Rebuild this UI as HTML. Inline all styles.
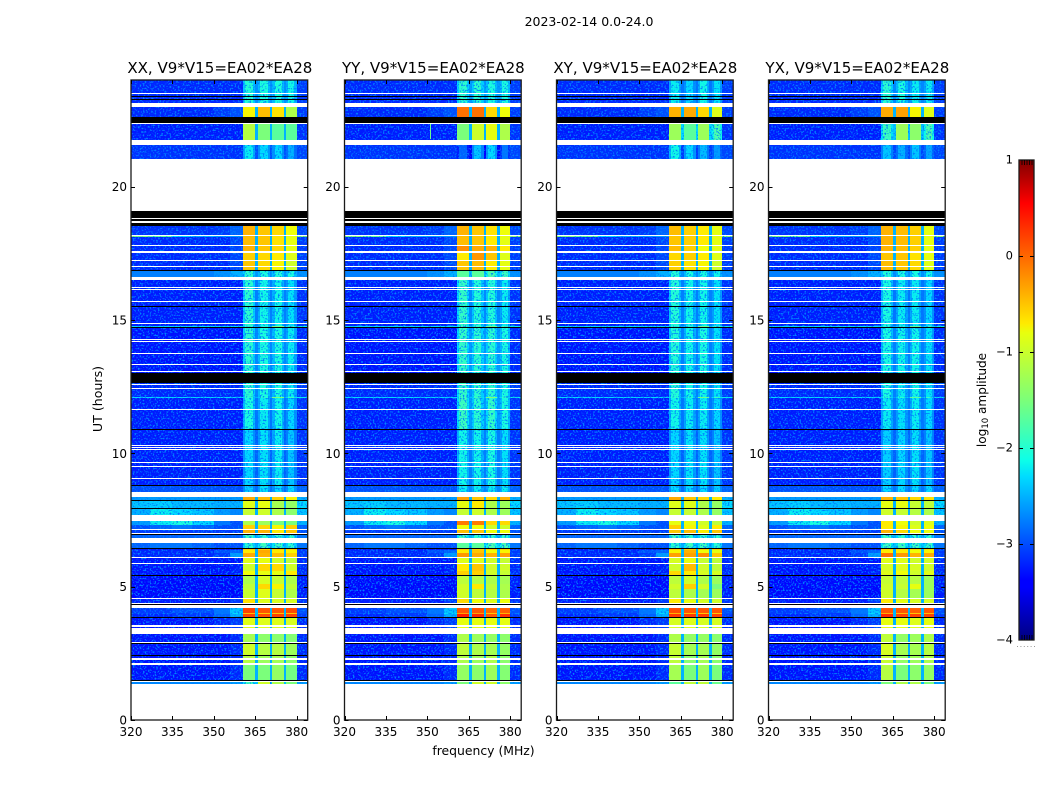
<!DOCTYPE html>
<html>
<head>
<meta charset="utf-8">
<title>2023-02-14 0.0-24.0</title>
<style>
html,body{margin:0;padding:0;background:#fff;}
svg{display:block;}
text{font-family:"DejaVu Sans","Liberation Sans",sans-serif;fill:#000;}
</style>
</head>
<body>
<svg id="chart" xmlns="http://www.w3.org/2000/svg" width="1050" height="800" viewBox="0 0 1050 800">
  <defs>
    <filter id="speckle-a" filterUnits="userSpaceOnUse" x="120" y="70" width="830" height="660" color-interpolation-filters="sRGB">
      <feTurbulence type="fractalNoise" baseFrequency="0.6" numOctaves="1" seed="7" result="n"/>
      <feColorMatrix in="n" type="matrix" values="0 0 0 0 0  0 0 0 0 0.5  0 0 0 0 1  6 0 0 0 -3.1" result="c"/>
      <feComposite in="c" in2="SourceGraphic" operator="atop"/>
    </filter>
    <linearGradient id="jet-gradient" x1="0" y1="1" x2="0" y2="0">
      <stop offset="0" stop-color="#000080"/>
      <stop offset="0.11" stop-color="#0000ff"/>
      <stop offset="0.125" stop-color="#0000ff"/>
      <stop offset="0.34" stop-color="#00dbff"/>
      <stop offset="0.375" stop-color="#0dffe8"/>
      <stop offset="0.5" stop-color="#7cff79"/>
      <stop offset="0.64" stop-color="#e8ff0d"/>
      <stop offset="0.66" stop-color="#ffea00"/>
      <stop offset="0.89" stop-color="#ff1300"/>
      <stop offset="0.91" stop-color="#ff0000"/>
      <stop offset="1" stop-color="#800000"/>
    </linearGradient>
  </defs>
</svg>
<script>
// ----- axis categories and tick labels -----
const panelTitles = ["XX, V9*V15=EA02*EA28", "YY, V9*V15=EA02*EA28", "XY, V9*V15=EA02*EA28", "YX, V9*V15=EA02*EA28"];
const freqTicks = [320, 335, 350, 365, 380];
const hourTicks = [0, 5, 10, 15, 20];
const colorTicks = [1, 0, -1, -2, -3, -4];

// ----- heatmap: time rows in hours (UT), frequency columns in MHz -----
const rowEdges = [1.35,1.47,2.1,2.4,2.85,3.45,3.85,3.96,4.0,4.2,4.54,4.9,5.1,5.44,5.6,5.85,6.08,6.25,6.37,6.45,6.64,6.97,7.13,7.3,7.46,7.95,8.22,8.36,8.82,10.9,12.09,12.13,12.62,14.72,14.76,16.5,16.87,17.23,17.55,17.8,18.13,18.2,18.6,21.05,21.75,22.4,22.97,24];
const bgFreqEdges = [320,327,335,342,350,356,360.6];
const blockFreqEdges = [[360.6,365],[366,370.4],[371.2,375.4],[376.2,380]];
const notchFreqEdges = [[365,366],[370.4,371.2],[375.4,376.2]];
const tailFreqEdges = [380,384];

// log10 amplitude of background (one row per time row, one value per bg column)
const backgroundLevels = [
[-2.7,-2.7,-2.7,-2.7,-2.7,-2.6],[-3.3,-3.3,-3.3,-3.3,-3.3,-3.2],[-3.3,-3.3,-3.3,-3.3,-3.3,-3.2],[-3.3,-3.3,-3.3,-3.3,-3.3,-3.2],
[-3.3,-3.3,-3.3,-3.3,-3.3,-3.2],[-3.3,-3.3,-3.3,-3.3,-3.2,-3.1],[-3.2,-3.2,-3.1,-3.1,-2.9,-2.5],[-3.1,-3.1,-3.1,-3.1,-2.8,-2.3],
[-3.1,-3.1,-3,-3,-2.8,-2.4],[-3.25,-3.25,-3.25,-3.25,-3.25,-3.1],[-3.35,-3.35,-3.35,-3.35,-3.35,-3.35],[-3.35,-3.35,-3.35,-3.35,-3.35,-3.35],
[-3.35,-3.35,-3.35,-3.35,-3.35,-3.35],[-3.3,-3.3,-3.3,-3.3,-3.3,-3.25],[-3.3,-3.3,-3.3,-3.3,-3.3,-3.25],[-3.3,-3.3,-3.3,-3.3,-3.3,-3.3],
[-3.2,-3.2,-3.2,-3.2,-3.1,-2.6],[-3.2,-3.2,-3.2,-3.2,-3.0,-2.9],[-3.3,-3.3,-3.3,-3.3,-3.3,-3.3],[-2.9,-2.8,-2.8,-2.9,-3.0,-3.0],
[-2.9,-2.9,-2.9,-2.9,-2.9,-2.9],[-3.1,-3.1,-3.1,-3.1,-3.1,-3.1],[-3,-2.9,-2.8,-2.9,-3,-3],[-2.6,-2.2,-2.1,-2.3,-2.8,-3],
[-2.5,-2.2,-2.3,-2.4,-2.6,-2.7],[-2.4,-2.35,-2.45,-2.45,-2.5,-2.5],[-2.6,-2.6,-2.6,-2.6,-2.6,-2.6],[-3,-3,-3,-3,-3,-3],
[-3.25,-3.25,-3.25,-3.25,-3.25,-3.25],[-3.25,-3.25,-3.25,-3.25,-3.25,-3.25],[-2.3,-2.3,-2.3,-2.3,-2.3,-2.3],[-3.2,-3.2,-3.2,-3.2,-3.2,-3.2],
[-3.3,-3.3,-3.3,-3.3,-3.3,-3.3],[-2.3,-2.3,-2.3,-2.3,-2.3,-2.3],[-3.25,-3.25,-3.25,-3.25,-3.25,-3.25],[-2.75,-2.75,-2.75,-2.75,-2.65,-2.5],
[-3.2,-3.2,-3.2,-3.2,-3.2,-3.05],[-3.2,-3.2,-3.2,-3.2,-3.2,-3.05],[-3.2,-3.2,-3.2,-3.2,-3.2,-3.05],[-3.2,-3.2,-3.2,-3.2,-3.2,-3.05],
[-1.5,-1.7,-2.3,-2.5,-2.6,-2.6],[-3.15,-3.15,-3.15,-3.15,-3.1,-2.9],[-3.2,-3.2,-3.2,-3.2,-3.2,-3.2],[-3.15,-3.15,-3.15,-3.15,-3.15,-3.15],
[-3.25,-3.25,-3.25,-3.25,-3.25,-3.25],[-3.2,-3.2,-3.2,-3.2,-3.1,-3],[-3.2,-3.2,-3.2,-3.2,-3.2,-3.2]
];

// log10 amplitude in the four bright frequency blocks, per polarisation
const blockLevelsXX = [
[-1.9,-1,-1.2,-1.5],[-1.5,-1.5,-1.35,-1.55],[-1.15,-1.3,-1.25,-1.4],[-1,-1.15,-1.15,-1.3],[-1.25,-1.4,-1.4,-1.45],[-0.9,-0.9,-0.9,-0.95],
[0.2,0.15,0.2,0.2],[-0.45,-0.5,-0.5,-0.5],[0.2,0.1,0.1,0.15],[-0.65,-0.9,-0.95,-0.95],[-1.05,-0.9,-1.05,-1.2],[-1.1,-0.6,-0.75,-1.1],
[-1.2,-0.95,-1.05,-1.2],[-0.8,-0.85,-0.85,-0.7],[-1,-0.6,-0.6,-1],[-0.9,-0.85,-1,-1.1],[-0.35,-0.4,-0.45,-0.55],[-0.7,-0.35,-0.7,-0.75],
[-0.55,-0.55,-0.55,-0.55],[-2,-1.9,-1.9,-2],[-1.9,-2,-2,-2],[-0.4,-0.4,-0.7,-0.5],[-0.55,-0.6,-0.75,-0.55],[-1.2,-1.3,-1.5,-1.5],
[-1.05,-1,-1.2,-1.4],[-0.9,-0.85,-1.25,-1.35],[-0.35,-0.45,-0.55,-0.75],[-2.35,-2.25,-2.3,-2.3],[-2.3,-2.25,-2.2,-2.4],[-2.1,-2.2,-2.15,-2.3],
[-2,-2,-1.5,-1.9],[-2,-2.1,-2.1,-2.2],[-2,-2.1,-2.1,-2.2],[-2,-2,-1.5,-1.8],[-2,-2.15,-2.15,-2.25],[-2,-2.1,-2.05,-2.1],
[-0.5,-0.6,-0.75,-1],[-0.55,-0.6,-0.7,-0.9],[-0.4,-0.5,-0.6,-0.85],[-0.45,-0.5,-0.65,-0.85],[-0.45,-0.5,-0.65,-0.85],[-0.4,-0.5,-0.6,-0.8],
[-0.4,-0.5,-0.6,-0.8],[-2.2,-2.3,-2.3,-2.5],[-1.15,-1.5,-1.7,-1.7],[-0.75,-0.45,-0.65,-1.2],[-2.05,-2.1,-2.1,-2.15]
];
const blockLevelsYY = [
[-1.5,-1,-1,-1.4],[-1.35,-1.4,-1.3,-1.45],[-1.2,-1.3,-1.2,-1.4],[-1.1,-1.2,-1.25,-1.35],[-1.2,-1.3,-1.35,-1.4],[-0.85,-0.85,-0.85,-0.85],
[0.4,0.35,0.1,0.3],[-0.3,-0.3,-0.5,-0.4],[0.1,0.1,0,0.05],[-0.6,-0.8,-0.9,-0.8],[-1,-1.1,-1.15,-1.2],[-1,-0.7,-1.1,-1.2],
[-1.1,-1.15,-1.2,-1.25],[-0.55,-0.55,-1,-1.05],[-0.7,-0.5,-1,-1],[-0.9,-0.9,-1,-1.05],[-0.25,-0.35,-0.4,-0.3],[-0.7,-0.5,-0.8,-0.75],
[-0.55,-0.55,-0.55,-0.55],[-1.7,-1.7,-1.8,-1.8],[-1.9,-2,-2,-2],[-0.45,-0.5,-0.8,-0.8],[-0.8,-0.8,-1,-1],[-0.1,-0.1,-0.6,-0.6],
[-1.05,-1,-1.2,-1.3],[-0.85,-0.7,-1.2,-1.3],[-0.3,-0.5,-0.6,-0.4],[-2.2,-2.2,-2.2,-2.2],[-2.15,-2.15,-2.1,-2.25],[-1.9,-2,-1.95,-2.1],
[-1.9,-1.9,-1.5,-1.9],[-1.95,-2,-2,-2.1],[-1.95,-2,-2,-2.1],[-1.9,-1.9,-1.6,-1.8],[-1.95,-2.05,-2.05,-2.2],[-1.7,-1.7,-1.8,-1.9],
[-0.5,-0.45,-0.7,-0.85],[-0.7,-0.25,-0.5,-0.9],[-0.2,-0.35,-0.4,-0.7],[-0.45,-0.5,-0.7,-0.85],[-0.45,-0.5,-0.7,-0.85],[-0.4,-0.5,-0.65,-0.8],
[-0.4,-0.5,-0.65,-0.8],[-2.9,-2.4,-2.3,-2.8],[-1.5,-1,-0.85,-1.2],[-0.05,-0.05,-0.6,-0.8],[-2,-2,-2.1,-2.1]
];
const blockLevelsXY = [
[-1.7,-1.1,-1.1,-1.6],[-1.25,-1.5,-1.3,-1.5],[-1.1,-1.4,-1.25,-1.4],[-1.05,-1.25,-1.25,-1.35],[-1.2,-1.35,-1.35,-1.4],[-0.95,-0.9,-0.95,-0.95],
[0.25,0.25,0.25,0.2],[-0.4,-0.45,-0.5,-0.5],[0.15,0.1,0.1,0.1],[-0.7,-0.85,-0.95,-1],[-1.1,-1.2,-1.25,-1.3],[-1,-0.55,-1,-1.5],
[-1.1,-1,-1.2,-1.3],[-0.6,-0.7,-0.95,-0.95],[-1,-0.45,-1,-1.1],[-0.95,-0.85,-1.05,-1.1],[-0.3,-0.3,-0.2,-0.5],[-0.75,-0.4,-0.8,-0.85],
[-0.55,-0.55,-0.55,-0.55],[-2,-1.9,-1.9,-2],[-1.9,-2,-2,-2],[-0.5,-0.45,-0.7,-0.5],[-0.55,-0.75,-0.9,-0.7],[-0.85,-0.85,-1,-1.1],
[-1.05,-1.05,-1.2,-1.35],[-0.9,-0.9,-1.2,-1.35],[-0.35,-0.5,-0.6,-0.7],[-2.3,-2.3,-2.3,-2.35],[-2.3,-2.25,-2.25,-2.4],[-2.15,-2.2,-2.2,-2.3],
[-2,-2,-1.6,-1.9],[-2.05,-2.15,-2.15,-2.25],[-2.05,-2.15,-2.1,-2.25],[-2,-2,-1.6,-1.8],[-2.05,-2.15,-2.15,-2.25],[-2.05,-2.1,-2.1,-2.15],
[-0.55,-0.65,-0.75,-1],[-0.6,-0.55,-0.7,-0.9],[-0.45,-0.55,-0.8,-0.85],[-0.5,-0.55,-0.7,-0.85],[-0.5,-0.55,-0.7,-0.85],[-0.45,-0.55,-0.7,-0.85],
[-0.45,-0.55,-0.7,-0.85],[-2.15,-2.3,-2.45,-2.6],[-1.3,-1.7,-1.3,-1.8],[-0.4,-0.35,-0.6,-0.9],[-2.2,-2.3,-2.15,-2.25]
];
const blockLevelsYX = [
[-1.5,-1.2,-1.2,-1.5],[-1.15,-1.5,-1.4,-1.35],[-1.05,-1.35,-1.3,-1.2],[-0.95,-1.25,-1.25,-1.15],[-1.1,-1.35,-1.3,-1.2],[-0.85,-0.85,-0.9,-0.85],
[0.35,0.2,0.2,0.2],[-0.35,-0.45,-0.5,-0.45],[0.1,0.1,0.05,0.1],[-0.7,-0.85,-0.95,-0.95],[-1,-1.15,-1.25,-1.3],[-1,-1.05,-0.85,-1.3],
[-1.05,-1.1,-1.15,-1.3],[-0.9,-0.8,-1,-0.9],[-0.95,-0.9,-0.95,-1],[-0.9,-0.9,-1,-1],[-0.05,-0.25,-0.4,-0.35],[-0.7,-0.7,-0.8,-0.75],
[-0.6,-0.6,-0.6,-0.6],[-1.9,-1.9,-1.9,-1.9],[-1.9,-2,-2,-2],[-0.4,-0.6,-0.8,-0.8],[-0.7,-0.75,-0.9,-0.8],[-0.7,-0.8,-1,-0.9],
[-1,-1.05,-1.15,-1.2],[-0.85,-0.85,-1.05,-1.1],[-0.4,-0.5,-0.6,-0.65],[-2.3,-2.3,-2.3,-2.3],[-2.35,-2.3,-2.25,-2.4],[-2.2,-2.25,-2.2,-2.3],
[-2,-2,-1.7,-1.9],[-2.1,-2.2,-2.15,-2.25],[-2.1,-2.15,-2.15,-2.25],[-2,-2,-1.7,-1.9],[-2.1,-2.2,-2.2,-2.3],[-2.05,-2.1,-2.1,-2.15],
[-0.45,-0.5,-0.6,-0.9],[-0.5,-0.5,-0.65,-0.85],[-0.4,-0.45,-0.55,-0.85],[-0.4,-0.45,-0.55,-0.85],[-0.4,-0.45,-0.55,-0.85],[-0.4,-0.45,-0.55,-0.85],
[-0.4,-0.45,-0.55,-0.85],[-2.4,-2.5,-2.4,-2.55],[-1.9,-1.3,-1.4,-1.8],[-0.35,-0.3,-0.75,-0.9],[-2,-2.1,-2.2,-2.2]
];
const allBlockLevels = [blockLevelsXX, blockLevelsYY, blockLevelsXY, blockLevelsYX];

// flagged time ranges (hours)
const whiteGaps = [[0,1.35],[1.44,1.47],[2.08,2.12],[2.25,2.34],[2.89,2.92],[3.22,3.45],[3.48,3.52],[3.53,3.56],[4.2,4.31],[4.35,4.39],[4.54,4.57],[5.85,5.88],[6.08,6.11],[6.64,6.82],[6.99,7.03],[7.13,7.16],[7.46,7.69],[8.36,8.55],[9.05,9.08],[9.5,9.53],[9.63,9.67],[10.13,10.17],[10.22,10.25],[10.28,10.32],[11.63,11.67],[12.42,12.45],[12.57,12.6],[13.05,13.08],[13.32,13.35],[13.73,13.77],[14.17,14.2],[14.26,14.29],[14.86,14.89],[15.67,15.7],[16.14,16.17],[16.22,16.25],[16.5,16.61],[17,17.04],[17.23,17.26],[17.53,17.57],[17.77,17.8],[18.17,18.2],[18.65,18.72],[18.78,18.82],[19.08,21.05],[21.56,21.75],[22.36,22.4],[22.97,23.12],[23.48,23.52]];
const blackGaps = [[1.47,1.5],[2.4,2.43],[2.84,2.87],[3.85,3.88],[4.31,4.35],[5.4,5.44],[6.41,6.45],[6.94,6.98],[7.91,7.95],[8.2,8.24],[8.79,8.82],[10.89,10.92],[12.62,13.02],[14.69,14.72],[15.49,15.52],[16.84,16.87],[18.52,18.65],[18.72,18.78],[18.82,19.08],[22.4,22.62],[23.25,23.28],[23.38,23.41]];
// narrow spikes: panel index, frequency MHz, hour start, hour end, log10 amplitude
const spikes = [[1,350.8,21.8,22.35,-1.6]];

// ----- scales -----
const panelLeft = [131, 344.5, 556.5, 768.5];
const PLOT_TOP = 80, PLOT_BOTTOM = 720, PLOT_W = 176.7;
const xScale = (p, f) => panelLeft[p] + (f - 320) * PLOT_W / 64;
const yScale = t => PLOT_BOTTOM - t * (PLOT_BOTTOM - PLOT_TOP) / 24;

function jetChannel(t, pts) {
  for (let i = 1; i < pts.length; i++) {
    if (t <= pts[i][0]) {
      const a = pts[i - 1], b = pts[i];
      return a[1] + (b[1] - a[1]) * (t - a[0]) / (b[0] - a[0]);
    }
  }
  return pts[pts.length - 1][1];
}
function levelColor(v) {
  const t = Math.max(0, Math.min(1, (v + 4) / 5));
  const r = jetChannel(t, [[0,0],[0.35,0],[0.66,1],[0.89,1],[1,0.5]]);
  const g = jetChannel(t, [[0,0],[0.125,0],[0.375,1],[0.64,1],[0.91,0],[1,0]]);
  const b = jetChannel(t, [[0,0.5],[0.11,1],[0.34,1],[0.65,0],[1,0]]);
  return "rgb(" + Math.round(r * 255) + "," + Math.round(g * 255) + "," + Math.round(b * 255) + ")";
}

const SVGNS = "http://www.w3.org/2000/svg";
const chart = document.getElementById("chart");
function svgEl(tag, attrs, parent) {
  const el = document.createElementNS(SVGNS, tag);
  for (const k in attrs) el.setAttribute(k, attrs[k]);
  (parent || chart).appendChild(el);
  return el;
}
function cell(parent, p, f0, f1, t0, t1, fill) {
  const x0 = Math.round(xScale(p, f0)), x1 = Math.round(xScale(p, f1));
  const y0 = Math.round(yScale(t1)), y1 = Math.round(yScale(t0));
  const el = svgEl("rect", {x: x0, y: y0, width: Math.max(1, x1 - x0), height: Math.max(1, y1 - y0), fill: fill, "shape-rendering": "crispEdges"}, parent);
  return el;
}
function label(parent, x, y, str, size, anchor) {
  const el = svgEl("text", {x: x, y: y, "font-size": size, "text-anchor": anchor || "middle"}, parent);
  el.textContent = str;
  return el;
}

panelTitles.forEach(function (title, p) {
  const panel = svgEl("g", {});
  
  

  const noisy = svgEl("g", {filter: "url(#speckle-a)"}, panel);
  
  
  const solid = svgEl("g", {}, panel);
  
  

  const levels = allBlockLevels[p];
  for (let r = 0; r < rowEdges.length - 1; r++) {
    const t0 = rowEdges[r], t1 = rowEdges[r + 1];
    backgroundLevels[r].forEach(function (v, c) {
      const el = cell(noisy, p, bgFreqEdges[c], bgFreqEdges[c + 1], t0, t1, levelColor(v));
      
      
    });
    const tail = cell(noisy, p, tailFreqEdges[0], tailFreqEdges[1], t0, t1, levelColor(backgroundLevels[r][0] + 0.1));
    
    
    const rowMin = Math.min.apply(null, levels[r]);
    const notch = rowMin < -1.7 ? rowMin - 0.5 : -2.5;
    notchFreqEdges.forEach(function (edge) {
      const el = cell(rowMin < -1.7 ? noisy : solid, p, edge[0], edge[1], t0, t1, levelColor(notch));
      
      
    });
    levels[r].forEach(function (v, b) {
      const quiet = v < -1.7;
      const f0 = blockFreqEdges[b][0], f1 = blockFreqEdges[b][1];
      const el = cell(quiet ? noisy : solid, p, f0, f1, t0, t1, levelColor(v));
      
      
      if (quiet) {
        const e1 = cell(noisy, p, f0, f0 + 0.8, t0, t1, levelColor(v - 0.35));
        
        
        const e2 = cell(noisy, p, f1 - 0.8, f1, t0, t1, levelColor(v - 0.35));
        
        
      }
    });
  }
  spikes.forEach(function (s) {
    if (s[0] !== p) return;
    const el = cell(panel, p, s[1], s[1] + 0.36, s[2], s[3], levelColor(s[4]));
    
    
  });
  whiteGaps.forEach(function (g) {
    const el = cell(panel, p, 320, 384, g[0], g[1], "#ffffff");
    
    
  });
  blackGaps.forEach(function (g) {
    const el = cell(panel, p, 320, 384, g[0], g[1], "#000000");
    
    
  });

  const left = panelLeft[p], right = left + PLOT_W;
  const frame = svgEl("rect", {x: left, y: PLOT_TOP, width: PLOT_W, height: PLOT_BOTTOM - PLOT_TOP, fill: "none", stroke: "#1a1a1a", "stroke-width": 1.3}, panel);
  
  

  freqTicks.forEach(function (f) {
    const x = Math.round(xScale(p, f)) + 0.5;
    const tb = svgEl("line", {x1: x, x2: x, y1: PLOT_BOTTOM, y2: PLOT_BOTTOM - 4, stroke: "#000"}, panel);
    
    
    const tt = svgEl("line", {x1: x, x2: x, y1: PLOT_TOP, y2: PLOT_TOP + 4, stroke: "#000"}, panel);
    
    
    const lb = label(panel, xScale(p, f), 736, String(f), 12);
    
    
  });
  hourTicks.forEach(function (h) {
    const y = Math.round(yScale(h)) + 0.5;
    const tl = svgEl("line", {x1: left, x2: left + 4, y1: y, y2: y, stroke: "#000"}, panel);
    
    
    const tr = svgEl("line", {x1: right, x2: right - 4, y1: y, y2: y, stroke: "#000"}, panel);
    
    
    const lb = label(panel, left - 4, yScale(h) + 4.5, String(h), 12, "end");
    
    
  });
  const ttl = label(panel, left + PLOT_W / 2 + 0.5, 73, title, 15.05);
  
  
});

const supTitle = label(chart, 589, 26, "2023-02-14 0.0-24.0", 12.5);



const xTitle = label(chart, 483.5, 755, "frequency (MHz)", 12.4);



const yTitle = label(chart, 0, 0, "UT (hours)", 12.6);
yTitle.setAttribute('transform', 'translate(102,399) rotate(-90)');



// ----- colour bar -----
const cbTop = 160, cbBottom = 640, cbLeft = 1019, cbRight = 1034;
const cbY = v => cbTop + (1 - v) * (cbBottom - cbTop) / 5;
const cb = svgEl("g", {});


const cbRect = svgEl("rect", {x: cbLeft, y: cbTop, width: cbRight - cbLeft, height: cbBottom - cbTop, fill: "url(#jet-gradient)", stroke: "#1a1a1a", "stroke-width": 1.3}, cb);


colorTicks.forEach(function (v) {
  const y = Math.round(cbY(v)) + 0.5;
  if (v < 1 && v > -4) {
    const a = svgEl("line", {x1: cbLeft, x2: cbLeft + 4, y1: y, y2: y, stroke: "#000"}, cb);
    
    
    const b = svgEl("line", {x1: cbRight, x2: cbRight - 4, y1: y, y2: y, stroke: "#000"}, cb);
    
    
  }
  const lb = label(cb, 1013, cbY(v) + 3.5, String(v).replace("-", "\u2212"), 11.5, "end");
  
  
});
[1022, 1024.5, 1027, 1029.5, 1032].forEach(function (x) {
  const a = svgEl("line", {x1: x, x2: x, y1: cbTop, y2: cbTop + 5, stroke: "#000", "stroke-width": 0.8}, cb);
  
  
  const b = svgEl("line", {x1: x, x2: x, y1: cbBottom, y2: cbBottom - 5, stroke: "#000", "stroke-width": 0.8}, cb);
  
  
});
const dots = svgEl("line", {x1: 1017, x2: 1035, y1: 646.5, y2: 646.5, stroke: "#999", "stroke-width": 1, "stroke-dasharray": "1 2.4"}, cb);



const cbTitle = svgEl("text", {transform: "translate(986,400) rotate(-90)", "font-size": 12.1, "text-anchor": "middle"}, cb);


const tsA = svgEl("tspan", {}, cbTitle);
tsA.textContent = "log";
const tsB = svgEl("tspan", {"font-size": 8.5, dy: 2}, cbTitle);
tsB.textContent = "10";
const tsC = svgEl("tspan", {dy: -2}, cbTitle);
tsC.textContent = " amplitude";
</script>
</body>
</html>
